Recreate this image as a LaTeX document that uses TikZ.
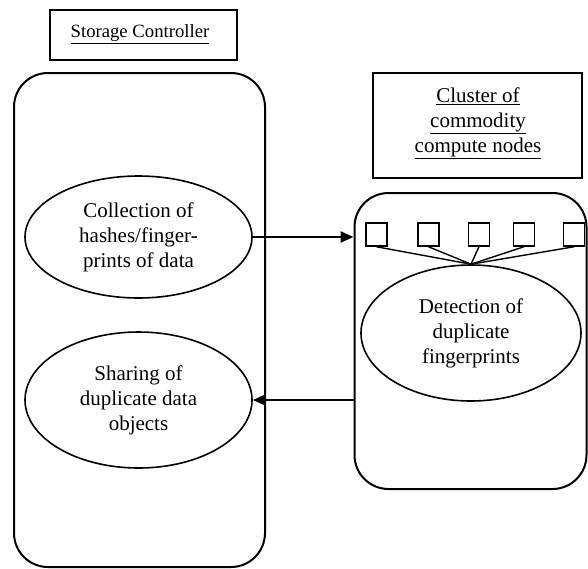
\documentclass[tikz,border=0pt]{standalone}
\usepackage{fontspec}
\setmainfont{Liberation Serif}
\usetikzlibrary{shapes.geometric,arrows.meta}
\tikzset{
  lbl/.style={font=\fontsize{21}{25}\selectfont, align=center},
  titlebox/.style={draw, line width=2pt, inner sep=0pt},
  bigbox/.style={draw, line width=2pt, rounded corners=34pt, inner sep=0pt},
  oval/.style={draw, ellipse, line width=1.6pt, inner sep=0pt, lbl},
  sq/.style={draw, line width=1.5pt, minimum width=21pt, minimum height=23pt, inner sep=0pt},
  flow/.style={line width=2.4pt, -{Triangle[length=13pt,width=11pt]}},
  fan/.style={line width=1.4pt}
}
\begin{document}
\begin{tikzpicture}[x=1pt,y=-1pt]
\useasboundingbox (0,0) rectangle (588,568);
% title boxes
\node[titlebox, minimum width=187pt, minimum height=50pt] (sctitle) at (143.5,35) {};
\node[font=\fontsize{18.7}{22}\selectfont] (sctext) at (140,34) {\underline{Storage Controller}};
\node[titlebox, minimum width=209pt, minimum height=105pt] (cltitle) at (477.5,125.5) {};
\node[lbl] (cltext) at (478,123) {\underline{Cluster of}\\\underline{commodity}\\\underline{compute nodes}};
% big rounded containers
\node[bigbox, minimum width=251pt, minimum height=494pt] (lc) at (139.5,320) {};
\node[bigbox, minimum width=232pt, minimum height=296pt] (rc) at (470.5,341) {};
% ellipses
\node[oval, minimum width=227pt, minimum height=122pt] (coll) at (138.5,237) {Collection of\\hashes/finger-\\prints of data};
\node[oval, minimum width=227pt, minimum height=136pt] (share) at (138.5,400) {Sharing of\\duplicate data\\objects};
\node[oval, minimum width=220pt, minimum height=136pt] (det) at (471,333) {Detection of\\duplicate\\fingerprints};
% compute node squares
\node[sq] (s1) at (376.5,234.5) {};
\node[sq] (s2) at (428.5,234.5) {};
\node[sq] (s3) at (479,234.5) {};
\node[sq] (s4) at (524,234.5) {};
\node[sq] (s5) at (574,234.5) {};
\foreach \s in {s1,s2,s3,s4,s5} \draw[fan] (\s.south) -- (det.north);
% arrows
\draw[flow] (coll.east) -- (coll.east -| rc.west);
\draw[flow] (share.east -| rc.west) -- (share.east);
\end{tikzpicture}
\end{document}
